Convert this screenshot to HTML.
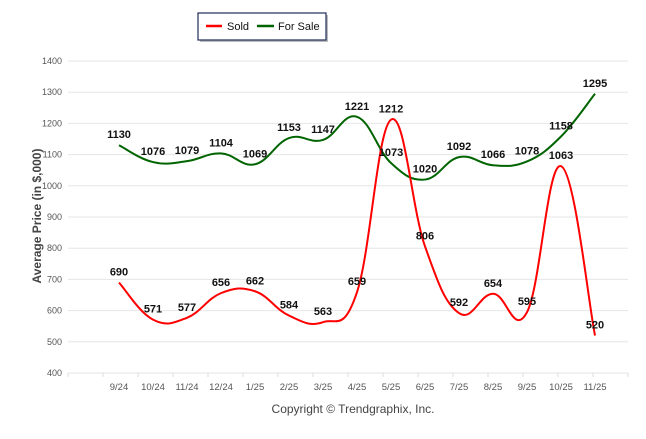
<!DOCTYPE html>
<html><head><meta charset="utf-8"><style>
body{margin:0;background:#fff;font-family:"Liberation Sans",sans-serif}
svg text{font-family:"Liberation Sans",sans-serif}
</style></head><body>
<svg id="c" width="646" height="434">
<rect x="0" y="0" width="646" height="434" fill="#fff"/>
<g>
<rect x="200" y="15" width="128" height="27" fill="#bbb"/>
<rect x="198" y="13" width="128" height="27" fill="#fff" stroke="#1f2d5a" stroke-width="1.2"/>
<line x1="206" y1="26" x2="222" y2="26" stroke="#f00" stroke-width="2.5"/>
<text x="227" y="30" font-size="11" fill="#111">Sold</text>
<line x1="257" y1="26" x2="274" y2="26" stroke="#006400" stroke-width="2.5"/>
<text x="278" y="30" font-size="11" fill="#111">For Sale</text>
</g>
<text transform="translate(41,216) rotate(-90)" text-anchor="middle" font-size="12" font-weight="bold" fill="#444">Average Price (in $,000)</text>
<text x="353" y="413" text-anchor="middle" font-size="12" fill="#444">Copyright © Trendgraphix, Inc.</text>
<g id="grid"></g><g id="series"></g><g id="labels"></g>
</svg>
<script>
const categories=["9/24","10/24","11/24","12/24","1/25","2/25","3/25","4/25","5/25","6/25","7/25","8/25","9/25","10/25","11/25"];
const soldValues=[690,571,577,656,662,584,563,659,1212,806,592,654,595,1063,520];
const forSaleValues=[1130,1076,1079,1104,1069,1153,1147,1221,1073,1020,1092,1066,1078,1158,1295];
const yTicks=[400,500,600,700,800,900,1000,1100,1200,1300,1400];
const NS="http://www.w3.org/2000/svg";
const X=i=>119+34*i, Y=v=>373-(v-400)*0.312;
function mk(t,a,p){const e=document.createElementNS(NS,t);for(const k in a)e.setAttribute(k,a[k]);p.appendChild(e);return e;}
const g=document.getElementById('grid');
yTicks.forEach(v=>{const l=mk('line',{x1:68,x2:628,y1:Y(v),y2:Y(v),stroke:'#e6e6e6'},g);


const t=mk('text',{x:62,y:Y(v)+3,'text-anchor':'end','font-size':'9',fill:'#555'},g);t.textContent=v;

});
for(let k=0;k<=16;k++){mk('line',{x1:68+35*k,x2:68+35*k,y1:373,y2:377,stroke:'#ddd'},g);}
categories.forEach((c,i)=>{const t=mk('text',{x:X(i),y:390,'text-anchor':'middle','font-size':'9.5',fill:'#555'},g);t.textContent=c;

});
function path(vals){const p=vals.map((v,i)=>[X(i),Y(v)]);let d='M'+p[0];
for(let i=0;i<p.length-1;i++){const p0=p[i-1]||p[i],p1=p[i],p2=p[i+1],p3=p[i+2]||p2,t=0.2;
d+=` C${p1[0]+(p2[0]-p0[0])*t},${p1[1]+(p2[1]-p0[1])*t} ${p2[0]-(p3[0]-p1[0])*t},${p2[1]-(p3[1]-p1[1])*t} ${p2[0]},${p2[1]}`;}return d;}
const s=document.getElementById('series'),lb=document.getElementById('labels');
[[forSaleValues,'#006400','for-sale'],[soldValues,'#f00','sold']].forEach(([vals,col,n])=>{
const pe=mk('path',{d:path(vals),fill:'none',stroke:col,'stroke-width':2},s);


vals.forEach((v,i)=>{const t=mk('text',{x:X(i),y:Y(v)-7,'text-anchor':'middle','font-size':'11','font-weight':'bold',fill:'#111'},lb);t.textContent=v;

});});
</script>
</body></html>
